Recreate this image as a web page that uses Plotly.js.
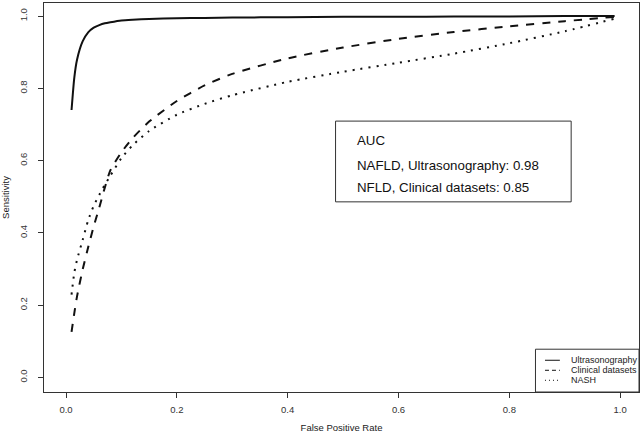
<!DOCTYPE html>
<html>
<head>
<meta charset="utf-8">
<script src="https://cdn.plot.ly/plotly-3.0.1.min.js"></script>
<style>html,body{margin:0;padding:0;background:#fff}#chart{width:644px;height:436px}</style>
</head>
<body>
<div id="chart"></div>
<script>
var fpr = [0.01, 0.015, 0.02, 0.03, 0.04, 0.05, 0.06, 0.07, 0.08, 0.10, 0.12, 0.15, 0.20, 0.25, 0.30, 0.40, 0.50, 0.60, 0.70, 0.80, 0.90, 0.99];
var sensUltrasonography = [0.74, 0.83, 0.88, 0.93, 0.955, 0.968, 0.975, 0.98, 0.983, 0.988, 0.990, 0.992, 0.994, 0.995, 0.996, 0.997, 0.998, 0.998, 0.999, 0.999, 1.0, 1.0];
var sensClinical = [0.126, 0.178, 0.225, 0.298, 0.36, 0.418, 0.47, 0.525, 0.573, 0.623, 0.662, 0.708, 0.765, 0.808, 0.84, 0.883, 0.913, 0.937, 0.956, 0.972, 0.986, 0.998];
var sensNASH = [0.229, 0.29, 0.326, 0.38, 0.435, 0.475, 0.505, 0.533, 0.558, 0.607, 0.642, 0.682, 0.727, 0.757, 0.781, 0.818, 0.846, 0.871, 0.896, 0.925, 0.958, 0.993];
var seriesNames = ["Ultrasonography", "Clinical datasets", "NASH"];
var aucLines = ["AUC", "NAFLD, Ultrasonography: 0.98", "NFLD, Clinical datasets: 0.85"];
var tickVals = [0, 0.2, 0.4, 0.6, 0.8, 1.0];
var tickText = ["0.0", "0.2", "0.4", "0.6", "0.8", "1.0"];

var dashes = ["solid", "8px,8px", "2px,6px"];
var ys = [sensUltrasonography, sensClinical, sensNASH];
var traces = ys.map(function (y, i) {
  return {x: fpr, y: y, type: "scatter", mode: "lines", name: seriesNames[i],
    line: {color: "#111", width: 2, dash: dashes[i], shape: "spline", smoothing: 0.6},
    showlegend: false, hoverinfo: "skip"};
});

var font = "Liberation Sans, Arial, Helvetica, sans-serif";
var shapes = [
  {type: "rect", xref: "paper", yref: "paper", x0: 0.490, x1: 0.886, y0: 0.4888, y1: 0.6964, line: {color: "#333", width: 1}},
  {type: "rect", xref: "paper", yref: "paper", x0: 0.826, x1: 1, y0: 0, y1: 0.11, line: {color: "#333", width: 1}}
];
var legY = [0.0816, 0.0558, 0.0301];
var annotations = [];
for (var i = 0; i < 3; i++) {
  shapes.push({type: "line", xref: "paper", yref: "paper", x0: 0.842, x1: 0.867, y0: legY[i], y1: legY[i], line: {color: "#111", width: 1, dash: i === 0 ? "solid" : (i === 1 ? "4px,3px" : "1px,3px")}});
  annotations.push({xref: "paper", yref: "paper", x: 0.882, y: legY[i], xanchor: "left", yanchor: "middle", showarrow: false, text: seriesNames[i], font: {family: font, size: 9, color: "#222"}});
}
var aucY = [0.6475, 0.5832, 0.5266];
for (var j = 0; j < 3; j++) {
  annotations.push({xref: "paper", yref: "paper", x: 0.5227, y: aucY[j], xanchor: "left", yanchor: "middle", showarrow: false, text: aucLines[j], font: {family: font, size: 13.3, color: "#111"}});
}

var layout = {
  width: 644, height: 436,
  margin: {l: 44, r: 5, t: 3, b: 44.3},
  paper_bgcolor: "#fff", plot_bgcolor: "#fff",
  showlegend: false,
  font: {family: font, color: "#222"},
  xaxis: {range: [-0.0397, 1.034], tickvals: tickVals, ticktext: tickText, ticks: "outside", ticklen: 5, tickcolor: "#333",
    showline: true, mirror: true, linecolor: "#333", linewidth: 1, showgrid: false, zeroline: false,
    tickfont: {size: 9.5, color: "#333"}, ticklabelstandoff: 4,
    title: {text: "False Positive Rate", font: {size: 9.5, color: "#222"}, standoff: 9}},
  yaxis: {range: [-0.0405, 1.0363], tickvals: tickVals, ticktext: tickText, ticks: "outside", ticklen: 5, tickcolor: "#333",
    showline: true, mirror: true, linecolor: "#333", linewidth: 1, showgrid: false, zeroline: false,
    tickangle: -90, tickfont: {size: 9.5, color: "#333"}, ticklabelstandoff: 7,
    title: {text: "Sensitivity", font: {size: 9.5, color: "#222"}, standoff: 7}},
  shapes: shapes,
  annotations: annotations
};
Plotly.newPlot("chart", traces, layout, {displayModeBar: false, staticPlot: true});
</script>
</body>
</html>
